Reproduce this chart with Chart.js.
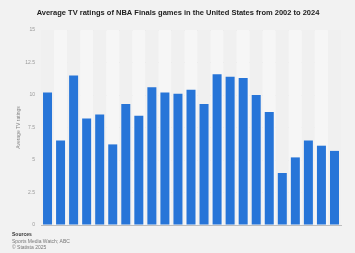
<!DOCTYPE html>
<html lang="en">
  <head>
    <meta charset="UTF-8" />
    <title>NBA Finals TV ratings</title>
    <script src="https://cdn.jsdelivr.net/npm/chart.js@4/dist/chart.umd.min.js"></script>
    <style>
      html, body { margin: 0; padding: 0; background: #f2f2f2; }
      #wrap { width: 355px; height: 253px; position: relative; }
    </style>
  </head>
  <body>
    <div id="wrap"><canvas id="chart"></canvas></div>
    <script>
      const years = [
        "2002", "2003", "2004", "2005", "2006", "2007", "2008", "2009",
        "2010", "2011", "2012", "2013", "2014", "2015", "2016", "2017",
        "2018", "2019", "2020", "2021", "2022", "2023", "2024",
      ];
      const ratings = [
        10.2, 6.5, 11.5, 8.2, 8.5, 6.2, 9.3, 8.4, 10.6, 10.2, 10.1, 10.4,
        9.3, 11.6, 11.4, 11.3, 10.0, 8.7, 4.0, 5.2, 6.5, 6.1, 5.7,
      ];
      const yTicks = [0, 2.5, 5, 7.5, 10, 12.5, 15];

      const titleText =
        "Average TV ratings of NBA Finals games in the United States from 2002 to 2024";
      const footerLines = ["Sources", "Sports Media Watch; ABC", "© Statista 2025"];

      // alternating column bands behind the bars
      const bands = {
        id: "bands",
        beforeDatasetsDraw(chart) {
          const { ctx, chartArea } = chart;
          const x = chart.scales.x;
          const step = x.getPixelForValue(1) - x.getPixelForValue(0);
          ctx.save();
          years.forEach((_, i) => {
            ctx.fillStyle = i % 2 === 0 ? "#f0f0f0" : "#f6f6f6";
            const cx = x.getPixelForValue(i);
            ctx.fillRect(cx - step / 2, chartArea.top, step, chartArea.bottom - chartArea.top);
          });
          ctx.restore();
        },
      };

      const texts = {
        id: "texts",
        afterDraw(chart) {
          const ctx = chart.ctx;
          ctx.save();
          ctx.fillStyle = "#222";
          ctx.font = "bold 7.5px 'Liberation Sans', Arial, sans-serif";
          ctx.textAlign = "center";
          ctx.textBaseline = "middle";
          ctx.fillText(titleText, 178, 13);

          ctx.textAlign = "left";
          ctx.fillStyle = "#333";
          ctx.font = "bold 5px 'Liberation Sans', Arial, sans-serif";
          ctx.fillText(footerLines[0], 12, 235);
          ctx.fillStyle = "#777";
          ctx.font = "5px 'Liberation Sans', Arial, sans-serif";
          ctx.fillText(footerLines[1], 12, 242);
          ctx.fillText(footerLines[2], 12, 247.5);
          ctx.restore();
        },
      };

      new Chart(document.getElementById("chart"), {
        type: "bar",
        data: {
          labels: years,
          datasets: [
            {
              data: ratings,
              backgroundColor: "#2775d8",
              categoryPercentage: 1,
              barPercentage: 0.69,
            },
          ],
        },
        options: {
          responsive: true,
          maintainAspectRatio: false,
          animation: false,
          layout: { padding: { top: 30, right: 14, bottom: 28, left: 16 } },
          plugins: {
            legend: { display: false },
            tooltip: { enabled: false },
            title: { display: false },
          },
          scales: {
            x: {
              ticks: { display: false },
              grid: { display: false, drawTicks: false },
              border: { color: "#bdbdbd", width: 1 },
            },
            y: {
              min: 0,
              max: 15,
              afterFit(scale) { scale.width = 25; },
              afterBuildTicks(scale) {
                scale.ticks = yTicks.map((v) => ({ value: v }));
              },
              ticks: {
                padding: 6,
                color: "#999",
                font: { size: 5, family: "'Liberation Sans', Arial, sans-serif" },
                callback: (v) => String(v),
              },
              grid: { color: "#d9d9d9", drawTicks: false },
              border: { display: false },
              title: {
                display: true,
                text: "Average TV ratings",
                color: "#888",
                padding: 0,
                font: { size: 5, family: "'Liberation Sans', Arial, sans-serif" },
              },
            },
          },
        },
        plugins: [bands, texts],
      });
    </script>
  </body>
</html>
